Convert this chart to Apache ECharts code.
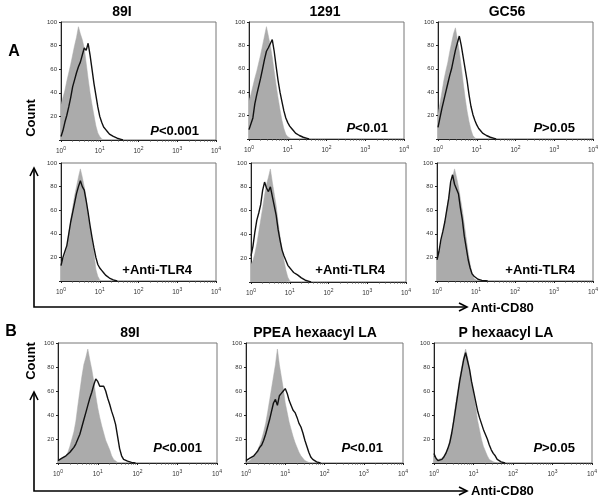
<!DOCTYPE html>
<html><head><meta charset="utf-8">
<script src="https://cdn.jsdelivr.net/npm/echarts@6/dist/echarts.min.js"></script>
<style>html,body{margin:0;padding:0;background:#fff}#c{width:602px;height:501px}</style>
</head><body><div id="c"></div>
<script>
// Fluorescence channel positions (anti-CD80 intensity), 0.05-decade bins from 10^0 to 10^2
const xs = [1, 1.122, 1.259, 1.413, 1.585, 1.778, 1.995, 2.239, 2.512, 2.818, 3.162, 3.548, 3.981, 4.467, 5.012, 5.623, 6.310, 7.079, 7.943, 8.913, 10, 11.22, 12.59, 14.13, 15.85, 17.78, 19.95, 22.39, 25.12, 28.18, 31.62, 35.48, 39.81, 44.67, 50.12, 56.23, 63.10, 70.79, 79.43, 89.13, 100];

// Panel A, row 1 (stimulus)
const a1Gray  = [30,36,42,50,57,64,72,80,87,96,90,85,78,65,52,40,30,21,12,6,3,1,0];
const a1Black = [3,8,15,21,28,36,45,51,57,62,66,72,78,76,82,72,60,48,38,28,20,15,11,9,7,5,4,3,2,1.5,1,0.5,0];
const a2Gray  = [33,38,45,52,58,65,72,80,88,96,88,80,70,58,46,35,25,16,9,4,2,0.5,0];
const a2Black = [8,9,18,30,38,45,52,60,68,75,78,78,85,75,62,50,40,32,24,18,14,11,9,7,5,4,3,2,1.5,1,0.5,0];
const a3Gray  = [22,30,40,50,58,65,74,82,90,95,85,75,62,48,35,24,15,8,3,1,0];
const a3Black = [10,18,26,33,40,47,54,60,68,76,82,88,80,70,60,50,38,28,21,16,12,9,7,5,4,3,2,1.5,1,0.5,0];
// Panel A, row 2 (+Anti-TLR4)
const a4Gray  = [15,18,22,28,40,52,62,72,80,88,95,88,80,70,57,45,34,24,10,4,1,0];
const a4Black = [13,20,25,30,40,50,58,66,74,80,85,80,77,68,58,47,37,28,20,14,11,9,7,5,4,2.5,1.5,1,0.5,0];
const a5Gray  = [15,18,24,32,42,52,62,73,82,88,95,84,74,64,50,38,28,18,10,4,1,0];
const a5Black = [22,30,42,52,58,65,77,84,79,76,80,72,64,56,44,35,27,22,18,14,12,10,8,7,6,4.5,3.5,2.5,1.5,1,0.5,0];
const a6Gray  = [18,25,32,40,50,60,70,80,88,95,88,80,70,60,48,36,24,14,6,2,0.5,0];
const a6Black = [18,25,35,42,50,60,70,84,90,82,78,74,62,52,38,28,18,11,6,4,2.5,1.5,1,0.5,0.5,0.3,0];
// Panel B
const b1Gray  = [2,3,4,5,6,9,14,20,26,35,48,60,72,82,88,95,86,78,68,56,46,38,31,25,19,15,11,6,3,1.5,0.5,0];
const b1Black = [2,3,4,5,6,7,9,11,13,16,20,24,30,36,42,48,54,59,65,70,68,64,63,64,60,54,49,43,38,32,22,12,6,3,2,1.5,1,0.5,0.5,0];
const b2Gray  = [0.5,1,2,4,6,8,11,15,20,26,33,42,52,62,72,82,95,82,72,62,50,42,34,28,22,17,13,9,6,4,2,1,0.5,0];
const b2Black = [2,3,4,5,6,8,10,13,15,19,24,30,36,43,50,53,48,56,58,60,62,58,52,48,44,42,38,33,30,25,19,14,9,5,3,2,1,0.5,0];
const b3Gray  = [5,4,3,3,4,6,9,13,19,27,38,50,60,71,80,88,95,88,78,67,57,48,36,28,20,14,10,6,3,2,1,0.5,0];
const b3Black = [8,4,2,2,3,5,8,12,17,25,35,46,57,68,77,86,92,85,78,68,60,52,44,38,33,28,24,20,15,11,8,6,3,1.5,1,0.5,0];

const grays  = [a1Gray, a2Gray, a3Gray, a4Gray, a5Gray, a6Gray, b1Gray, b2Gray, b3Gray];
const blacks = [a1Black, a2Black, a3Black, a4Black, a5Black, a6Black, b1Black, b2Black, b3Black];
const titles = ['89I', '1291', 'GC56', '', '', '', '89I', 'PPEA hexaacyl LA', 'P hexaacyl LA'];
const notes  = ['P<0.001', 'P<0.01', 'P>0.05', '+Anti-TLR4', '+Anti-TLR4', '+Anti-TLR4', 'P<0.001', 'P<0.01', 'P>0.05'];
const yTicks = [20, 40, 60, 80, 100];

// layout (pixels)
const panels = [
  {l:61, t:22, w:155, h:118, tx:122, ty:12, nx:199, ny:131},
  {l:249,t:22, w:155, h:117, tx:325, ty:12, nx:388, ny:128},
  {l:438,t:22, w:155, h:117, tx:507, ty:12, nx:575, ny:128},
  {l:61, t:163,w:155, h:118, nx:192, ny:270},
  {l:251,t:163,w:155, h:119, nx:385, ny:270},
  {l:437,t:163,w:156, h:118, nx:575, ny:270},
  {l:58, t:343,w:159, h:120, tx:130, ty:333, nx:202, ny:448},
  {l:246,t:343,w:157, h:120, tx:315, ty:333, nx:383, ny:448},
  {l:434,t:343,w:158, h:120, tx:506, ty:333, nx:575, ny:448}
];

const FONT = '"Liberation Sans", Arial, sans-serif';
const grid = [], xAxis = [], yAxis = [], series = [], graphic = [];

panels.forEach((p, i) => {
  grid.push({left:p.l, top:p.t, width:p.w, height:p.h, show:true, borderColor:'#777', borderWidth:1, backgroundColor:'transparent'});
  xAxis.push({
    type:'log', gridIndex:i, min:1, max:10000, logBase:10, splitNumber:4,
    axisLine:{lineStyle:{color:'#222', width:1}},
    axisTick:{show:true, length:2, lineStyle:{color:'#222'}},
    minorTick:{show:true, splitNumber:9, length:1.5, lineStyle:{color:'#444'}},
    splitLine:{show:false},
    axisLabel:{
      margin:6, color:'#333',
      formatter: v => '{b|10}{s|' + Math.round(Math.log10(v)) + '}',
      rich:{ b:{fontSize:6.5, fontFamily:FONT, color:'#333'}, s:{fontSize:5, fontFamily:FONT, color:'#333', padding:[0,0,5,0]} }
    }
  });
  yAxis.push({
    type:'value', gridIndex:i, min:0, max:100, interval:20,
    axisLine:{show:true, lineStyle:{color:'#222', width:1}},
    axisTick:{show:true, length:2, lineStyle:{color:'#222'}},
    splitLine:{show:false},
    axisLabel:{margin:4, fontSize:6, fontFamily:FONT, color:'#333',
      formatter: v => (yTicks.indexOf(v) >= 0 ? String(v) : '')}
  });
  series.push({
    type:'line', xAxisIndex:i, yAxisIndex:i, symbol:'none', silent:true,
    data: grays[i].map((v, k) => [xs[k], v]),
    lineStyle:{width:0.5, color:'#ababab'}, areaStyle:{color:'#ababab', opacity:1}, z:2
  });
  series.push({
    type:'line', xAxisIndex:i, yAxisIndex:i, symbol:'none', silent:true,
    data: blacks[i].map((v, k) => [xs[k], v]),
    lineStyle:{width:1.4, color:'#111'}, z:3
  });
  if (titles[i]) {
    graphic.push({type:'text', x:p.tx, y:p.ty, style:{text:titles[i], fill:'#000',
      font:'bold 14px ' + FONT, textAlign:'center', textVerticalAlign:'middle', align:'center', verticalAlign:'middle'}});
  }
  const n = notes[i];
  const txt = n.charAt(0) === 'P' ? '{i|P}{n|' + n.slice(1) + '}' : '{n|' + n + '}';
  graphic.push({type:'text', x:p.nx, y:p.ny, z:10, style:{text:txt, fill:'#000',
    textAlign:'right', textVerticalAlign:'middle', align:'right', verticalAlign:'middle',
    rich:{ i:{fontSize:13, fontWeight:'bold', fontStyle:'italic', fontFamily:FONT, fill:'#000', color:'#000'},
           n:{fontSize:13, fontWeight:'bold', fontFamily:FONT, fill:'#000', color:'#000'} }}});
});

function label(text, x, y, size, rot) {
  return {type:'text', x:x, y:y, rotation:rot || 0, style:{text:text, fill:'#000',
    font:'bold ' + size + 'px ' + FONT, textAlign:'center', textVerticalAlign:'middle', align:'center', verticalAlign:'middle'}};
}
function line(points) {
  return {type:'polyline', shape:{points:points}, style:{stroke:'#000', lineWidth:1.6, fill:null}};
}
graphic.push(label('A', 14, 52, 16));
graphic.push(label('B', 11, 332, 16));
graphic.push(label('Count', 31, 118, 13, Math.PI / 2));
graphic.push(label('Count', 31, 361, 13, Math.PI / 2));
// Axis arrows, row A
graphic.push(line([[34,169],[34,307],[467,307]]));
graphic.push(line([[30,176],[34,168],[38,176]]));
graphic.push(line([[459,303],[467,307],[459,311]]));
graphic.push({type:'text', x:471, y:308, style:{text:'Anti-CD80', fill:'#000', font:'bold 13px ' + FONT, textAlign:'left', textVerticalAlign:'middle', align:'left', verticalAlign:'middle'}});
// Axis arrows, row B
graphic.push(line([[34,393],[34,491],[467,491]]));
graphic.push(line([[30,400],[34,392],[38,400]]));
graphic.push(line([[459,487],[467,491],[459,495]]));
graphic.push({type:'text', x:471, y:491, style:{text:'Anti-CD80', fill:'#000', font:'bold 13px ' + FONT, textAlign:'left', textVerticalAlign:'middle', align:'left', verticalAlign:'middle'}});

const chart = echarts.init(document.getElementById('c'), null, {renderer:'canvas'});
chart.setOption({animation:false, backgroundColor:'#fff', grid, xAxis, yAxis, series, graphic});
</script>
</body></html>
